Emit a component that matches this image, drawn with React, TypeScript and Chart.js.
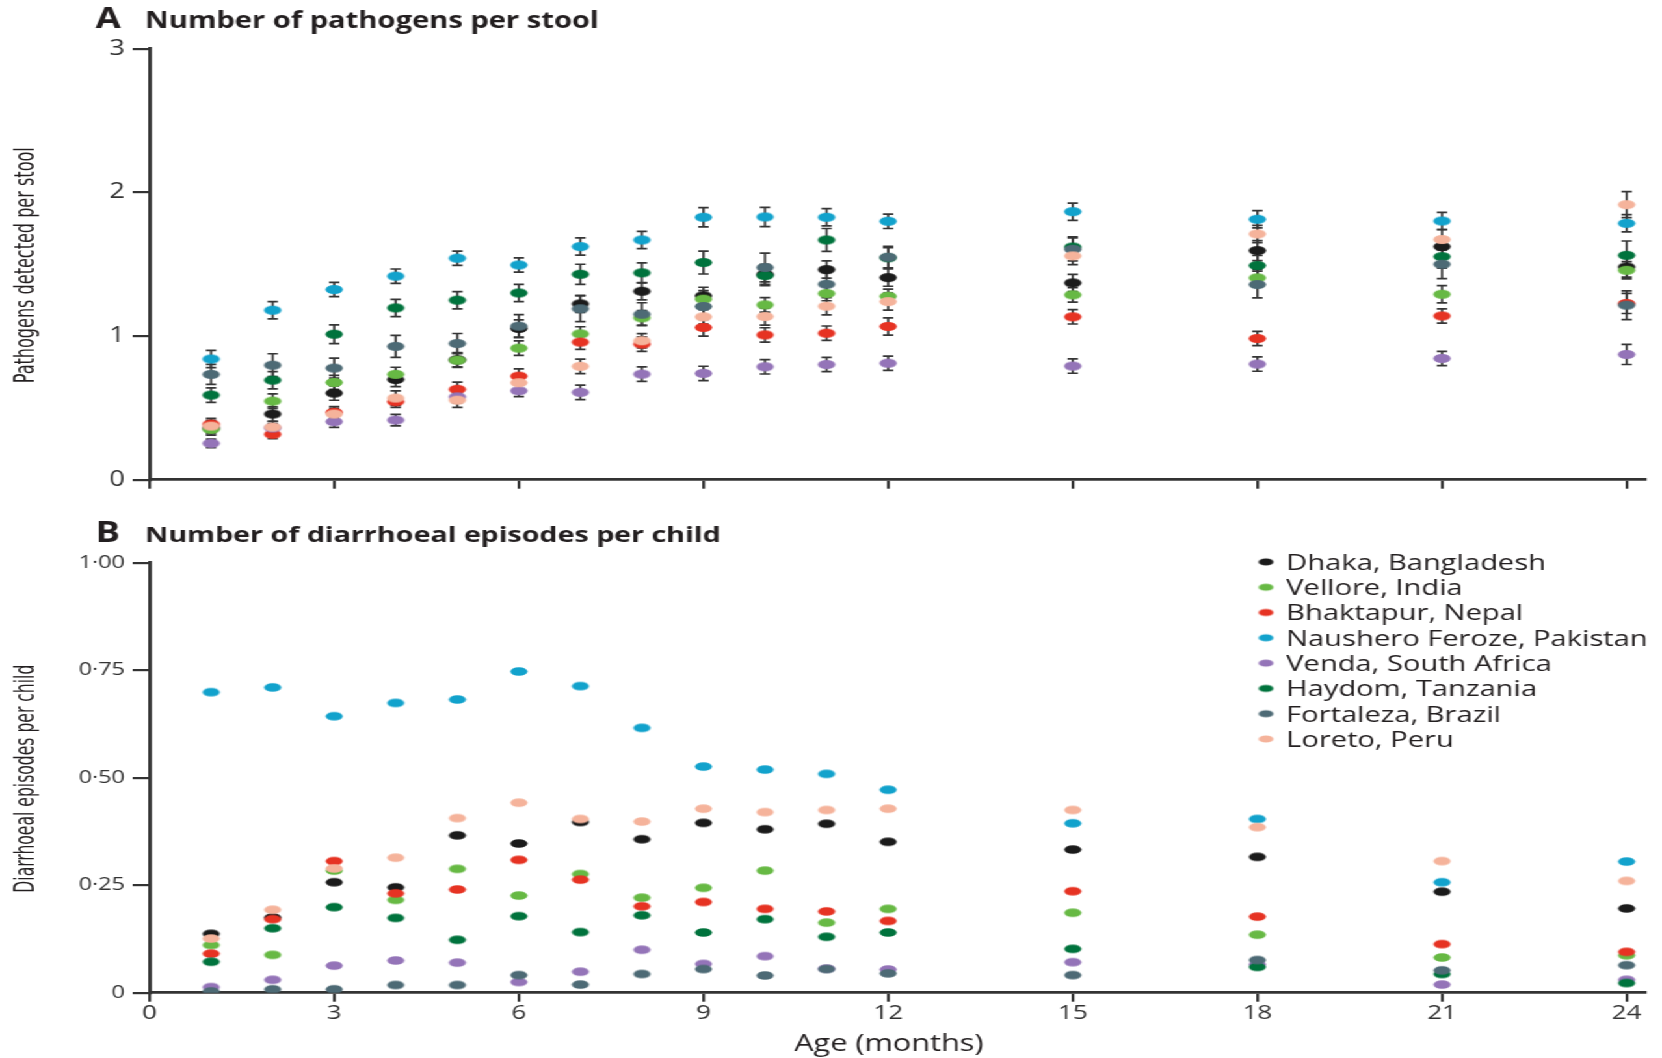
import React, { useEffect, useRef } from 'react';
import { Chart, registerables } from 'chart.js';

Chart.register(...registerables);

// ---------------- data ----------------
const MONTHS = [1, 2, 3, 4, 5, 6, 7, 8, 9, 10, 11, 12, 15, 18, 21, 24];

const SITES = [
  'Dhaka, Bangladesh',
  'Vellore, India',
  'Bhaktapur, Nepal',
  'Naushero Feroze, Pakistan',
  'Venda, South Africa',
  'Haydom, Tanzania',
  'Fortaleza, Brazil',
  'Loreto, Peru',
];
const SITE_COLORS = ['#1b1b1b', '#67b944', '#e63323', '#12a2cc', '#9474b8', '#00733d', '#4d6a75', '#f5b39b'];

// Panel A: pathogens detected per stool (mean)
const PATH_DHAKA = [0.36, 0.457, 0.603, 0.698, 0.835, 1.053, 1.224, 1.312, 1.28, 1.43, 1.463, 1.407, 1.37, 1.595, 1.623, 1.481];
const PATH_VELLORE = [0.35, 0.547, 0.677, 0.733, 0.832, 0.916, 1.015, 1.127, 1.257, 1.217, 1.296, 1.277, 1.287, 1.405, 1.291, 1.458];
const PATH_BHAKTAPUR = [0.387, 0.316, 0.469, 0.543, 0.629, 0.721, 0.958, 0.944, 1.06, 1.008, 1.02, 1.067, 1.134, 0.983, 1.14, 1.227];
const PATH_NAUSHERO = [0.84, 1.18, 1.324, 1.417, 1.542, 1.495, 1.623, 1.669, 1.827, 1.829, 1.827, 1.799, 1.866, 1.813, 1.801, 1.785];
const PATH_VENDA = [0.253, 0.36, 0.404, 0.415, 0.577, 0.619, 0.608, 0.735, 0.74, 0.786, 0.802, 0.811, 0.791, 0.805, 0.844, 0.872];
const PATH_HAYDOM = [0.589, 0.693, 1.013, 1.196, 1.25, 1.3, 1.43, 1.44, 1.512, 1.421, 1.669, 1.545, 1.62, 1.491, 1.553, 1.562];
const PATH_FORTALEZA = [0.733, 0.797, 0.777, 0.928, 0.948, 1.069, 1.19, 1.152, 1.206, 1.477, 1.361, 1.549, 1.604, 1.359, 1.5, 1.215];
const PATH_LORETO = [0.373, 0.366, 0.457, 0.568, 0.554, 0.675, 0.789, 0.967, 1.134, 1.136, 1.208, 1.24, 1.558, 1.711, 1.672, 1.915];

// Panel A: error bar half-widths
const ERR_DHAKA = [0.04, 0.05, 0.05, 0.05, 0.05, 0.06, 0.06, 0.06, 0.06, 0.07, 0.06, 0.06, 0.06, 0.07, 0.06, 0.07];
const ERR_VELLORE = [0.04, 0.05, 0.05, 0.05, 0.05, 0.05, 0.05, 0.05, 0.06, 0.05, 0.05, 0.05, 0.05, 0.06, 0.06, 0.06];
const ERR_BHAKTAPUR = [0.04, 0.03, 0.04, 0.04, 0.05, 0.05, 0.05, 0.05, 0.06, 0.05, 0.05, 0.06, 0.05, 0.05, 0.05, 0.07];
const ERR_NAUSHERO = [0.06, 0.06, 0.05, 0.05, 0.05, 0.05, 0.06, 0.06, 0.067, 0.067, 0.06, 0.05, 0.06, 0.06, 0.06, 0.06];
const ERR_VENDA = [0.03, 0.03, 0.04, 0.04, 0.04, 0.04, 0.05, 0.05, 0.05, 0.05, 0.05, 0.05, 0.05, 0.05, 0.05, 0.07];
const ERR_HAYDOM = [0.05, 0.06, 0.065, 0.06, 0.06, 0.06, 0.07, 0.07, 0.08, 0.07, 0.08, 0.07, 0.07, 0.07, 0.08, 0.1];
const ERR_FORTALEZA = [0.07, 0.08, 0.07, 0.077, 0.07, 0.08, 0.09, 0.08, 0.09, 0.1, 0.08, 0.075, 0.08, 0.093, 0.1, 0.1];
const ERR_LORETO = [0.04, 0.04, 0.04, 0.05, 0.05, 0.05, 0.05, 0.05, 0.05, 0.06, 0.06, 0.06, 0.06, 0.06, 0.07, 0.09];

// Panel B: diarrhoeal episodes per child
const DIAR_DHAKA = [0.137, 0.175, 0.257, 0.245, 0.366, 0.347, 0.397, 0.357, 0.395, 0.38, 0.393, 0.351, 0.333, 0.316, 0.235, 0.196];
const DIAR_VELLORE = [0.111, 0.088, 0.284, 0.216, 0.288, 0.226, 0.276, 0.221, 0.244, 0.284, 0.163, 0.195, 0.186, 0.135, 0.082, 0.087];
const DIAR_BHAKTAPUR = [0.091, 0.171, 0.306, 0.231, 0.24, 0.309, 0.263, 0.201, 0.211, 0.195, 0.189, 0.167, 0.236, 0.177, 0.113, 0.095];
const DIAR_NAUSHERO = [0.699, 0.71, 0.643, 0.674, 0.682, 0.747, 0.713, 0.616, 0.526, 0.519, 0.509, 0.472, 0.394, 0.404, 0.257, 0.305];
const DIAR_VENDA = [0.013, 0.03, 0.063, 0.075, 0.07, 0.025, 0.049, 0.1, 0.067, 0.085, 0.056, 0.054, 0.071, 0.066, 0.019, 0.03];
const DIAR_HAYDOM = [0.072, 0.15, 0.199, 0.174, 0.123, 0.178, 0.141, 0.18, 0.14, 0.171, 0.13, 0.14, 0.102, 0.06, 0.0435, 0.0225];
const DIAR_FORTALEZA = [0.003, 0.008, 0.008, 0.018, 0.018, 0.041, 0.019, 0.0435, 0.055, 0.04, 0.055, 0.045, 0.041, 0.076, 0.052, 0.064];
const DIAR_LORETO = [0.126, 0.193, 0.289, 0.314, 0.406, 0.442, 0.404, 0.398, 0.428, 0.42, 0.425, 0.428, 0.425, 0.385, 0.306, 0.26];

const PATHOGENS = [PATH_DHAKA, PATH_VELLORE, PATH_BHAKTAPUR, PATH_NAUSHERO, PATH_VENDA, PATH_HAYDOM, PATH_FORTALEZA, PATH_LORETO];
const PATH_ERRORS = [ERR_DHAKA, ERR_VELLORE, ERR_BHAKTAPUR, ERR_NAUSHERO, ERR_VENDA, ERR_HAYDOM, ERR_FORTALEZA, ERR_LORETO];
const DIARRHOEA = [DIAR_DHAKA, DIAR_VELLORE, DIAR_BHAKTAPUR, DIAR_NAUSHERO, DIAR_VENDA, DIAR_HAYDOM, DIAR_FORTALEZA, DIAR_LORETO];

// ticks
const X_TICKS = [0, 3, 6, 9, 12, 15, 18, 21, 24];
const X_TICK_LABELS = ['0', '3', '6', '9', '12', '15', '18', '21', '24'];
const Y_TICKS_A = [0, 1, 2, 3];
const Y_TICK_LABELS_A = ['0', '1', '2', '3'];
const Y_TICKS_B = [0, 0.25, 0.5, 0.75, 1];
const Y_TICK_LABELS_B = ['0', '0·25', '0·50', '0·75', '1·00'];

// ---------------- layout / style ----------------
const BASE_W = 1278;
const STRETCH = 1662 / BASE_W;
const AXIS = '#333333';
const TEXT = '#231f20';
const FONT = '"Open Sans", "DejaVu Sans", sans-serif';
const NARROW = '"Liberation Sans Narrow", "DejaVu Sans Condensed", sans-serif';

function makeMarker(color: string, w: number, h: number) {
  const c = document.createElement('canvas');
  c.width = Math.ceil(w) + 2;
  c.height = Math.ceil(h) + 2;
  const ctx = c.getContext('2d')!;
  ctx.fillStyle = color;
  ctx.beginPath();
  ctx.ellipse(c.width / 2, c.height / 2, w / 2, h / 2, 0, 0, Math.PI * 2);
  ctx.fill();
  return c;
}

function titlePlugin(letter: string, text: string, baseline: number, size: number) {
  return {
    id: 'panelTitle' + letter,
    afterDraw(chart: any) {
      const ctx = chart.ctx;
      ctx.save();
      ctx.fillStyle = TEXT;
      ctx.textBaseline = 'alphabetic';
      ctx.textAlign = 'left';
      ctx.font = `bold 28px ${FONT}`;
      ctx.fillText(letter, 73.5, baseline + 0.5);
      ctx.font = `bold ${size}px ${FONT}`;
      ctx.fillText(text, 111.5, baseline);
      ctx.restore();
    },
  };
}

function yTitlePlugin(text: string, length: number) {
  return {
    id: 'yTitle',
    afterDraw(chart: any) {
      const { ctx, chartArea } = chart;
      ctx.save();
      ctx.translate(21, (chartArea.top + chartArea.bottom) / 2 + 1);
      ctx.rotate(-Math.PI / 2);
      ctx.font = `21px ${NARROW}`;
      const w = ctx.measureText(text).width;
      ctx.scale(length / w, 1);
      ctx.fillStyle = TEXT;
      ctx.textAlign = 'center';
      ctx.textBaseline = 'middle';
      ctx.fillText(text, 0, 0);
      ctx.restore();
    },
  };
}

function xTitlePlugin(text: string) {
  return {
    id: 'xTitle',
    afterDraw(chart: any) {
      const ctx = chart.ctx;
      ctx.save();
      ctx.fillStyle = TEXT;
      ctx.textAlign = 'center';
      ctx.textBaseline = 'middle';
      ctx.font = `23.6px ${FONT}`;
      ctx.fillText(text, chart.chartArea.left + 568.5, chart.height - 14);
      ctx.restore();
    },
  };
}

function errorBarPlugin(errors: number[][]) {
  return {
    id: 'errorBars',
    beforeDatasetsDraw(chart: any) {
      const { ctx, scales } = chart;
      const xs = scales.x;
      const ys = scales.y;
      ctx.save();
      ctx.strokeStyle = '#363636';
      ctx.lineWidth = 1.7;
      chart.data.datasets.forEach((ds: any, di: number) => {
        const e = errors[di];
        ds.data.forEach((p: any, i: number) => {
          const px = xs.getPixelForValue(p.x);
          const lo = ys.getPixelForValue(p.y - e[i]);
          const hi = ys.getPixelForValue(p.y + e[i]);
          ctx.beginPath();
          ctx.moveTo(px, lo);
          ctx.lineTo(px, hi);
          ctx.moveTo(px - 4, lo);
          ctx.lineTo(px + 4, lo);
          ctx.moveTo(px - 4, hi);
          ctx.lineTo(px + 4, hi);
          ctx.stroke();
        });
      });
      ctx.restore();
    },
  };
}

function legendPlugin(markers: HTMLCanvasElement[]) {
  return {
    id: 'siteLegend',
    afterDraw(chart: any) {
      const { ctx, chartArea } = chart;
      ctx.save();
      ctx.font = `22.4px ${FONT}`;
      ctx.fillStyle = TEXT;
      ctx.textAlign = 'left';
      ctx.textBaseline = 'alphabetic';
      SITES.forEach((name, i) => {
        const cy = chartArea.top - 0.8 + i * 25.3;
        const m = markers[i];
        ctx.drawImage(m, chartArea.right - 291.5 - m.width / 2, cy - m.height / 2);
        ctx.fillText(name, chartArea.right - 276, cy + 7.9);
      });
      ctx.restore();
    },
  };
}

function xScale(showLabels: boolean, height: number) {
  return {
    type: 'linear',
    position: 'bottom',
    min: 0,
    max: 24.3,
    afterBuildTicks: (s: any) => {
      s.ticks = X_TICKS.map((v) => ({ value: v }));
    },
    afterFit: (s: any) => {
      s.height = height;
    },
    ticks: {
      display: showLabels,
      autoSkip: false,
      maxRotation: 0,
      padding: 0,
      color: AXIS,
      font: { family: FONT, size: 20 },
      callback: (_v: any, i: number) => X_TICK_LABELS[i],
    },
    grid: { display: true, drawOnChartArea: false, drawTicks: true, tickLength: 9, color: AXIS, lineWidth: 2.2 },
    border: { display: true, color: AXIS, width: 2.8 },
    title: { display: false },
  };
}

function yScale(max: number, ticks: number[], labels: string[], fontSize: number) {
  return {
    type: 'linear',
    position: 'left',
    min: 0,
    max,
    afterBuildTicks: (s: any) => {
      s.ticks = ticks.map((v) => ({ value: v }));
    },
    afterFit: (s: any) => {
      s.width = 115;
    },
    ticks: {
      padding: 6,
      color: AXIS,
      font: { family: FONT, size: fontSize },
      callback: (_v: any, i: number) => labels[i],
    },
    grid: { display: true, drawOnChartArea: false, drawTicks: true, tickLength: 13, color: AXIS, lineWidth: 2.2 },
    border: { display: true, color: AXIS, width: 2.8 },
    title: { display: false },
  };
}

function datasets(values: number[][], markers: HTMLCanvasElement[]) {
  return SITES.map((name, i) => ({
    label: name,
    data: MONTHS.map((m, j) => ({ x: m, y: values[i][j] })),
    pointStyle: markers[i],
    pointRadius: 5,
    pointHoverRadius: 5,
    showLine: false,
    order: SITES.length - i,
  }));
}

export default function App() {
  const refA = useRef<HTMLCanvasElement>(null);
  const refB = useRef<HTMLCanvasElement>(null);

  useEffect(() => {
    const markersA = SITE_COLORS.map((c) => makeMarker(c, 13.4, 9));
    const markersB = SITE_COLORS.map((c) => makeMarker(c, 13.2, 8.6));
    const markersL = SITE_COLORS.map((c) => makeMarker(c, 11.5, 7.2));

    const chartA = new Chart(refA.current as HTMLCanvasElement, {
      type: 'scatter',
      data: { datasets: datasets(PATHOGENS, markersA) as any },
      options: {
        responsive: false,
        animation: false,
        events: [],
        layout: { padding: { top: 48.8, right: BASE_W - 1265, bottom: 0, left: 0 } },
        plugins: { legend: { display: false }, tooltip: { enabled: false } },
        scales: {
          x: xScale(false, 20.3) as any,
          y: yScale(3, Y_TICKS_A, Y_TICK_LABELS_A, 21) as any,
        },
      },
      plugins: [
        titlePlugin('A', 'Number of pathogens per stool', 27.5, 22.4),
        yTitlePlugin('Pathogens detected per stool', 236),
        errorBarPlugin(PATH_ERRORS),
      ],
    });

    const chartB = new Chart(refB.current as HTMLCanvasElement, {
      type: 'scatter',
      data: { datasets: datasets(DIARRHOEA, markersB) as any },
      options: {
        responsive: false,
        animation: false,
        events: [],
        layout: { padding: { top: 62.7, right: BASE_W - 1265, bottom: 0, left: 0 } },
        plugins: { legend: { display: false }, tooltip: { enabled: false } },
        scales: {
          x: xScale(true, 65.3) as any,
          y: yScale(1, Y_TICKS_B, Y_TICK_LABELS_B, 18) as any,
        },
      },
      plugins: [
        titlePlugin('B', 'Number of diarrhoeal episodes per child', 41.7, 22),
        yTitlePlugin('Diarrhoeal episodes per child', 228),
        legendPlugin(markersL),
        xTitlePlugin('Age (months)'),
      ],
    });

    return () => {
      chartA.destroy();
      chartB.destroy();
    };
  }, []);

  return (
    <div
      style={{
        position: 'absolute',
        left: 0,
        top: 0,
        width: BASE_W,
        height: 1058,
        background: '#ffffff',
        transform: `scaleX(${STRETCH})`,
        transformOrigin: '0 0',
      }}
    >
      <canvas
        ref={refA}
        width={BASE_W}
        height={500}
        style={{ position: 'absolute', left: 0, top: 0, width: BASE_W, height: 500 }}
      />
      <canvas
        ref={refB}
        width={BASE_W}
        height={558}
        style={{ position: 'absolute', left: 0, top: 500, width: BASE_W, height: 558 }}
      />
    </div>
  );
}
